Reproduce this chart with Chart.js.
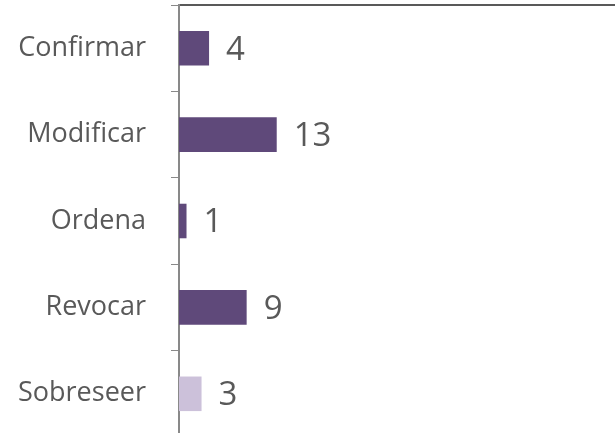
<!DOCTYPE html>
<html>
<head>
<meta charset="utf-8">
<script src="https://cdn.jsdelivr.net/npm/chart.js@4/dist/chart.umd.min.js"></script>
<style>
  html, body { margin: 0; padding: 0; background: #fff; overflow: hidden; }
  #wrap { width: 615px; height: 437px; }
</style>
</head>
<body>
<div id="wrap"><canvas id="chart"></canvas></div>
<script>
const categories = ['Confirmar', 'Modificar', 'Ordena', 'Revocar', 'Sobreseer'];
const counts = [4, 13, 1, 9, 3];
const barColors = ['#5F497A', '#5F497A', '#5F497A', '#5F497A', '#CCC1DA'];

// value labels to the right of each bar
const valueLabels = {
  id: 'valueLabels',
  afterDatasetsDraw(chart) {
    const ctx = chart.ctx;
    const meta = chart.getDatasetMeta(0);
    ctx.save();
    ctx.font = '33px "Open Sans", sans-serif';
    ctx.fillStyle = '#595959';
    ctx.textAlign = 'left';
    ctx.textBaseline = 'middle';
    meta.data.forEach((bar, i) => {
      ctx.fillText(String(counts[i]), bar.x + 17, bar.y + 2);
    });
    ctx.restore();
  }
};

const ctx = document.getElementById('chart').getContext('2d');
new Chart(ctx, {
  type: 'bar',
  data: {
    labels: categories,
    datasets: [{
      data: counts,
      backgroundColor: barColors,
      categoryPercentage: 1,
      barPercentage: 0.4
    }]
  },
  options: {
    indexAxis: 'y',
    responsive: true,
    maintainAspectRatio: false,
    animation: false,
    layout: { padding: { top: 5, right: 0, left: 0, bottom: 0 } },
    plugins: {
      legend: { display: false },
      tooltip: { enabled: false }
    },
    scales: {
      x: {
        position: 'top',
        min: 0,
        max: 58,
        ticks: { display: false },
        grid: { display: false, drawTicks: false },
        border: { display: true, color: '#595959', width: 2 },
        afterFit(scale) { scale.height = 0; }
      },
      y: {
        grid: {
          offset: true,
          drawOnChartArea: false,
          tickLength: 8,
          color: '#898989'
        },
        border: { color: '#898989', width: 2 },
        ticks: {
          padding: 25,
          color: '#595959',
          font: { family: '"Open Sans", sans-serif', size: 27 }
        },
        afterFit(scale) {
          scale.paddingTop = 0;
          scale.paddingBottom = 0;
          scale.width = 179;
        }
      }
    }
  },
  plugins: [valueLabels]
});
</script>
</body>
</html>
